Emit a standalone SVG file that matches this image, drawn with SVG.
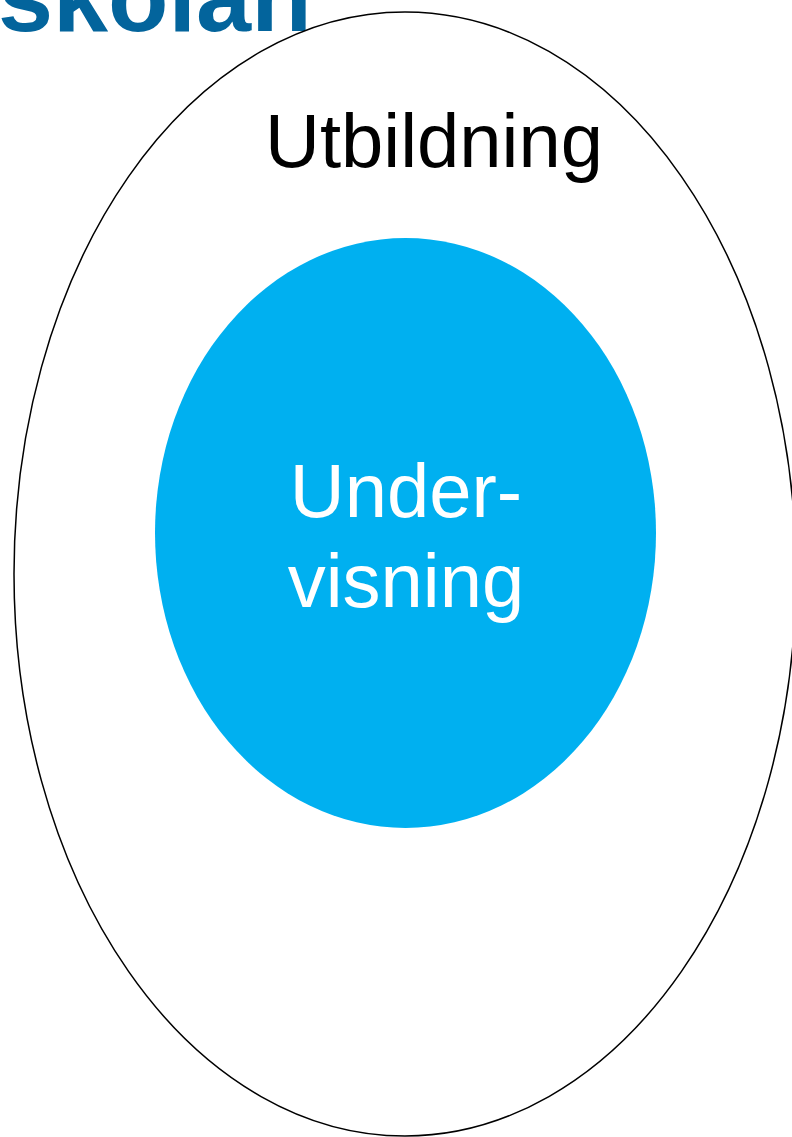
<svg xmlns="http://www.w3.org/2000/svg" width="792" height="1137" viewBox="0 0 792 1137">
<style>
.t{font-family:"Liberation Sans",Arial,sans-serif;font-size:76px}
</style>
<rect width="792" height="1137" fill="#fff"/>
<text x="-2" y="31" font-family="'Liberation Sans',Arial,sans-serif" font-weight="bold" font-size="99" fill="#03649C">skolan</text>
<g id="utbildning">
<ellipse cx="405" cy="574" rx="391" ry="562" fill="none" stroke="#000" stroke-width="1.5"/>
<text class="t" x="265" y="167" fill="#000">Utbildning</text>
</g>
<g id="undervisning">
<ellipse cx="405.5" cy="533" rx="250.5" ry="295" fill="#00B0F0"/>
<text class="t" x="406" y="517" fill="#fff" text-anchor="middle">Under-</text>
<text class="t" x="406" y="607" fill="#fff" text-anchor="middle">visning</text>
</g>
</svg>
